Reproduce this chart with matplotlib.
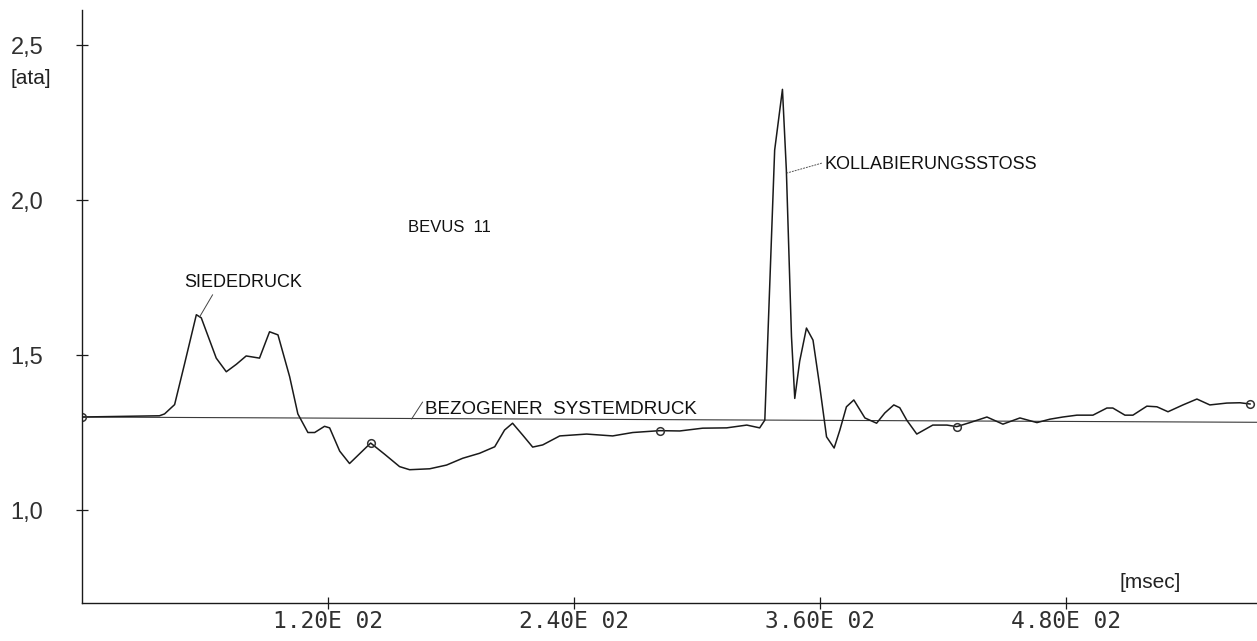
import matplotlib
matplotlib.use("Agg")
import matplotlib.pyplot as plt
import numpy as np

# ---- data (time in msec, pressure in ata) ----
time_ms = [0.0, 38.0, 40.5, 45.4, 50.2, 56.0, 58.4, 65.7, 70.6, 75.5, 80.3, 86.8,
           91.7, 95.8, 101.5, 105.5, 110.4, 113.7, 118.5, 121.0, 125.9, 130.7,
           141.0, 147.8, 155.1, 160.0, 169.8, 178.0, 185.9, 194.1, 201.5, 206.3,
           210.2, 215.1, 220.0, 224.9, 233.2, 246.3, 259.0, 268.8, 282.0, 291.7,
           302.9, 314.6, 324.4, 330.7, 333.2, 338.0, 341.8, 343.7, 346.2, 347.8,
           350.2, 353.5, 356.7, 360.0, 363.3, 367.0, 369.8, 373.0, 376.6, 382.0,
           387.7, 391.7, 396.1, 399.0, 402.4, 407.3, 415.1, 422.0, 426.8, 433.2,
           441.5, 449.3, 457.6, 465.9, 472.2, 478.5, 485.4, 493.2, 500.0, 502.9,
           508.8, 512.7, 519.5, 524.4, 529.8, 537.1, 543.9, 550.2, 558.5, 564.9,
           569.8]
pressure = [1.300, 1.304, 1.310, 1.340, 1.470, 1.630, 1.620, 1.490, 1.446, 1.470,
            1.497, 1.490, 1.575, 1.565, 1.430, 1.310, 1.250, 1.250, 1.270, 1.265,
            1.190, 1.150, 1.216, 1.180, 1.140, 1.130, 1.133, 1.145, 1.167, 1.183,
            1.204, 1.258, 1.280, 1.242, 1.203, 1.210, 1.239, 1.245, 1.239, 1.250,
            1.256, 1.255, 1.264, 1.265, 1.274, 1.265, 1.290, 2.161, 2.357, 2.097,
            1.560, 1.360, 1.480, 1.587, 1.548, 1.398, 1.236, 1.200, 1.258, 1.333,
            1.355, 1.297, 1.280, 1.313, 1.339, 1.330, 1.290, 1.245, 1.274, 1.274,
            1.269, 1.282, 1.300, 1.277, 1.297, 1.282, 1.293, 1.300, 1.306, 1.306,
            1.329, 1.329, 1.306, 1.306, 1.335, 1.333, 1.317, 1.339, 1.358, 1.339,
            1.345, 1.346, 1.342]

marker_t = [0.0, 141.0, 282.0, 426.8, 569.8]
marker_p = [1.300, 1.216, 1.256, 1.269, 1.342]

system_t = [0.0, 573.0]
system_p = [1.300, 1.283]

xticks = [120, 240, 360, 480]
xtick_labels = ["1.20E 02", "2.40E 02", "3.60E 02", "4.80E 02"]
yticks = [1.0, 1.5, 2.0, 2.5]
ytick_labels = ["1,0", "1,5", "2,0", "2,5"]

W, H = 1257, 641
fig = plt.figure(figsize=(W / 100, H / 100), dpi=100)
ax = fig.add_axes([81.5 / W, (H - 602.7) / H, 1 - 81.5 / W, (602.7 - 10) / H])

ink = "#1a1a1a"
ax.plot(system_t, system_p, color="#3a3a3a", lw=0.8)
ax.plot(time_ms, pressure, color=ink, lw=1.1)
ax.plot(marker_t, marker_p, ls="none", marker="o", ms=5.5, mfc="none",
        mec="#333333", mew=1.1)

ax.set_xlim(0, 573.2)
ax.set_ylim(0.701, 2.613)

for s in ["top", "right"]:
    ax.spines[s].set_visible(False)
for s in ["left", "bottom"]:
    ax.spines[s].set_linewidth(1.0)
    ax.spines[s].set_color(ink)

ax.set_xticks(xticks)
ax.set_xticklabels(xtick_labels, family="DejaVu Sans Mono", fontsize=16.5)
ax.set_yticks(yticks)
ax.set_yticklabels(ytick_labels, family="Liberation Sans", fontsize=17)
ax.tick_params(axis="x", direction="inout", length=9, width=0.9, pad=1, colors=ink)
ax.tick_params(axis="y", direction="inout", length=9, width=0.9, pad=23, colors=ink)
for lab in ax.get_xticklabels() + ax.get_yticklabels():
    lab.set_color("#303030")

txt = dict(family="Liberation Sans", color="#111111")
ax.text(79, 1.735, "SIEDEDRUCK", ha="center", va="center", fontsize=13, **txt)
ax.plot([63.9, 57.6], [1.694, 1.623], color="#444444", lw=0.7)

ax.text(179.5, 1.91, "BEVUS  11", ha="center", va="center", fontsize=12, **txt)

ax.text(167.3, 1.323, "BEZOGENER  SYSTEMDRUCK", ha="left", va="center",
        fontsize=13.5, **txt)
ax.plot([161.0, 166.3], [1.294, 1.348], color="#444444", lw=0.7)

ax.text(362.4, 2.113, "KOLLABIERUNGSSTOSS", ha="left", va="center",
        fontsize=13, **txt)
ax.plot([361.0, 343.9], [2.119, 2.087], color="#555555", lw=0.7, ls=(0, (2, 1)))

fig.text(31 / W, 1 - 79 / H, "[ata]", ha="center", va="center", fontsize=15,
         family="Liberation Sans", color="#222222")
fig.text(1150 / W, 1 - 583 / H, "[msec]", ha="center", va="center", fontsize=15,
         family="Liberation Sans", color="#222222")

fig.savefig("out.png", dpi=100, facecolor="white")
